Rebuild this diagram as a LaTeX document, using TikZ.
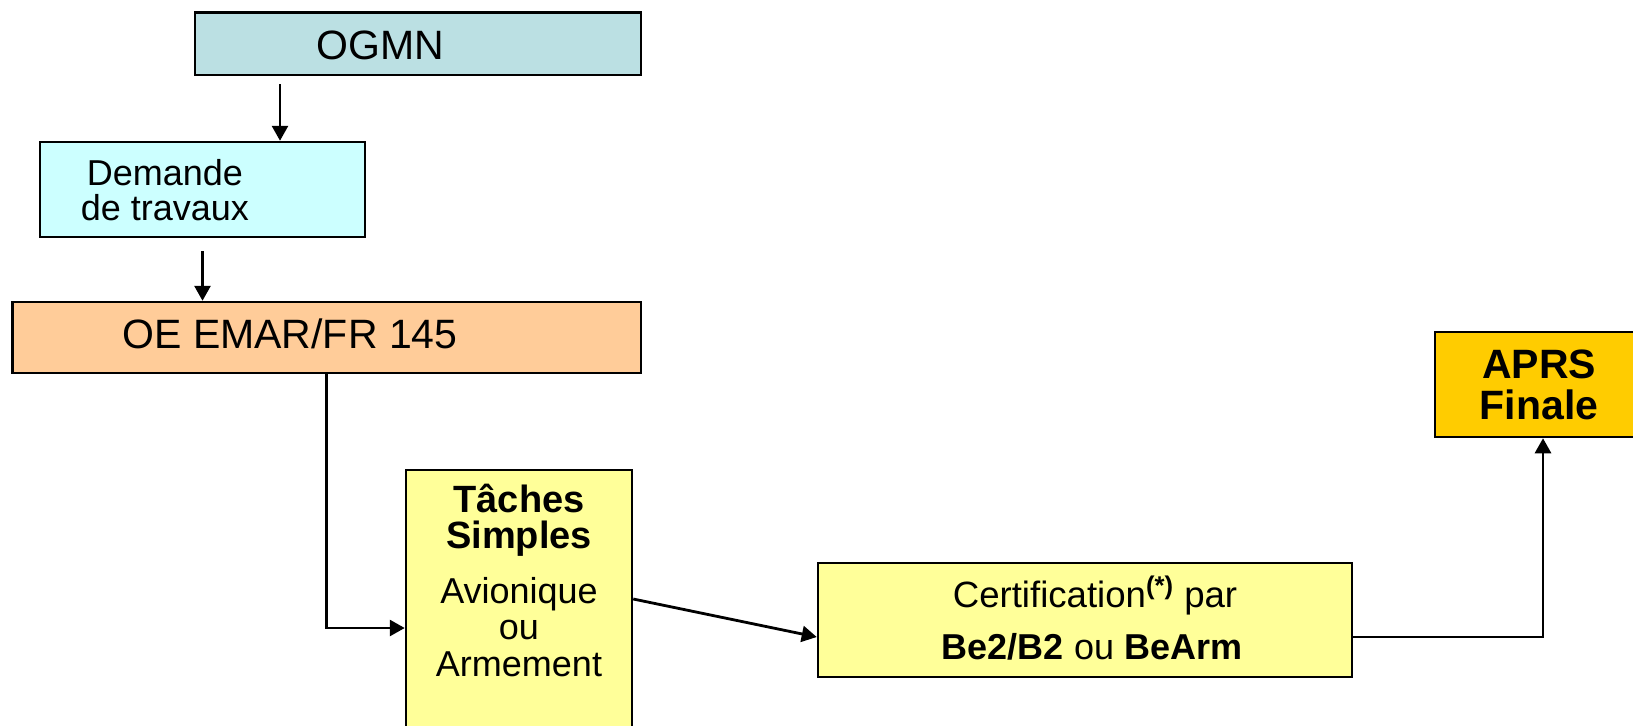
\documentclass[tikz,border=0pt]{standalone}
\usepackage{fontspec}
\setmainfont{Liberation Sans}
\usetikzlibrary{arrows.meta, positioning}

\definecolor{ogmnblue}{HTML}{BBE0E3}
\definecolor{demcyan}{HTML}{CCFFFF}
\definecolor{oeorange}{HTML}{FFCC99}
\definecolor{taskyellow}{HTML}{FFFF99}
\definecolor{aprsgold}{HTML}{FFCC00}

\tikzset{
  box/.style={draw, line width=1.25pt, inner sep=0pt},
  arrow/.style={line width=1.4pt, -{Triangle[length=7.5pt,width=8pt]}},
  txt/.style={align=center, inner sep=0pt},
}

\begin{document}
\begin{tikzpicture}[x=0.5pt, y=-0.5pt]
\useasboundingbox (0,0) rectangle (1633,725);

% boxes
\node[box, fill=ogmnblue, minimum width=223pt, minimum height=31.25pt] (ogmn) at (418,43.75) {};
\node[box, fill=demcyan, minimum width=162.5pt, minimum height=47.5pt] (dem) at (202.5,189.5) {};
\node[box, fill=oeorange, minimum width=314.25pt, minimum height=35.5pt] (oe) at (326.75,337.5) {};
\node[box, fill=taskyellow, minimum width=113pt, minimum height=158pt] (taches) at (519,628) {};
\node[box, fill=taskyellow, minimum width=267pt, minimum height=57pt] (cert) at (1085,620) {};
\node[box, fill=aprsgold, minimum width=104pt, minimum height=52.5pt] (aprs) at (1539,384.5) {};

% texts
\node[txt, anchor=base, font=\fontsize{20.5}{24}\selectfont] (ogmntxt) at (380,59) {OGMN};
\node[txt, font=\fontsize{18}{17.2}\selectfont] (demtxt) at (165,190) {Demande\\de travaux};
\node[txt, anchor=base, font=\fontsize{20.5}{24}\selectfont] (oetxt) at (290,348) {OE EMAR/FR 145};
\node[txt, font=\bfseries\fontsize{19}{18.2}\selectfont] (tachestitle) at (519,520) {Tâches\\Simples};
\node[txt, font=\fontsize{18}{18.2}\selectfont] (tachesbody) at (519,627) {Avionique\\ou\\Armement};
\node[txt, anchor=base, font=\fontsize{18.3}{21}\selectfont] (certtop) at (1095,607) {Certification\textsuperscript{\textbf{(*)}} par};
\node[txt, anchor=base, font=\fontsize{18}{21}\selectfont] (certbot) at (1092,659) {\textbf{Be2/B2} ou \textbf{BeArm}};
\node[txt, font=\bfseries\fontsize{20.5}{20.8}\selectfont] (aprstxt) at (1539,385) {APRS\\Finale};

% connectors
\draw[arrow] ([xshift=-69pt,yshift=-4pt]ogmn.south) coordinate (a1) -- (a1 |- dem.north);
\draw[arrow] ([yshift=-6.5pt]dem.south) coordinate (a2) -- (a2 |- oe.north);
\draw[arrow] (oe.south) |- (taches.west);
\draw[arrow] ([yshift=14.5pt]taches.east) -- ([yshift=-8.5pt]cert.west);
\draw[arrow] ([yshift=-8.5pt]cert.east) -| ([xshift=2pt]aprs.south);
\end{tikzpicture}
\end{document}
